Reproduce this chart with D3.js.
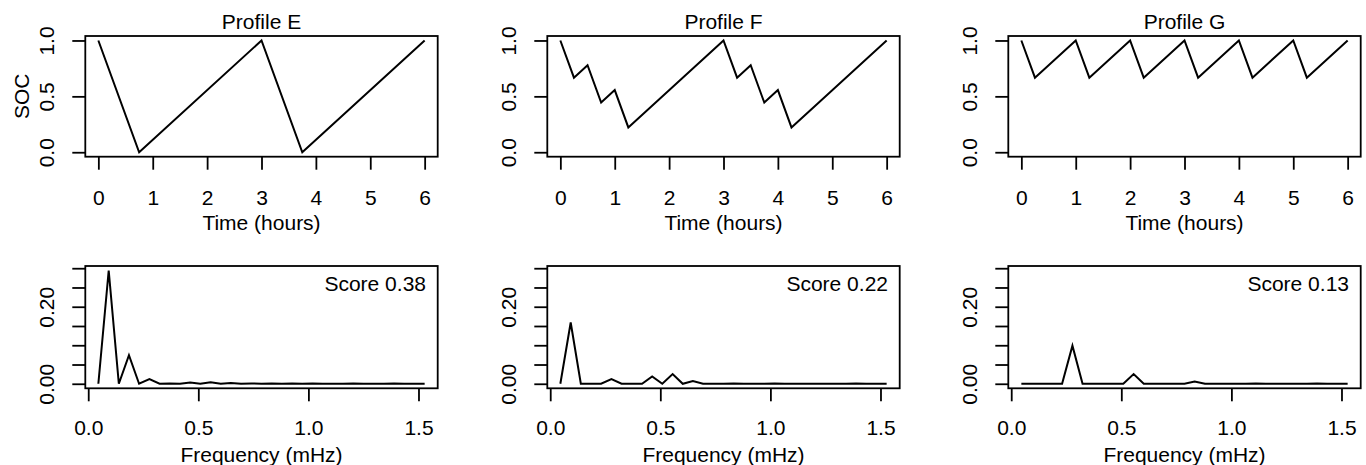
<!DOCTYPE html>
<html>
<head>
<meta charset="utf-8">
<script src="https://cdn.jsdelivr.net/npm/d3@7"></script>
<style>
  body { margin: 0; background: #fff; }
  svg { display: block; }
  text { font-family: "Liberation Sans", Arial, Helvetica, sans-serif; font-size: 21px; fill: #000; }
</style>
</head>
<body>
<svg width="1366" height="465"></svg>
<script>
// state of charge profiles (time in hours)
var timeE = [0, 0.75, 3, 3.75, 6];
var socE  = [1, 0, 1, 0, 1];

var timeF = [0, 0.25, 0.5, 0.75, 1, 1.25, 3, 3.25, 3.5, 3.75, 4, 4.25, 6];
var socF  = [1, 0.667, 0.778, 0.444, 0.556, 0.222, 1, 0.667, 0.778, 0.444, 0.556, 0.222, 1];

var timeG = [0, 0.25, 1, 1.25, 2, 2.25, 3, 3.25, 4, 4.25, 5, 5.25, 6];
var socG  = [1, 0.667, 1, 0.667, 1, 0.667, 1, 0.667, 1, 0.667, 1, 0.667, 1];

// spectra
var freqMHz = [0.046, 0.093, 0.139, 0.185, 0.231, 0.278, 0.324, 0.370, 0.417, 0.463, 0.509,
               0.556, 0.602, 0.648, 0.694, 0.741, 0.787, 0.833, 0.880, 0.926, 0.972, 1.019,
               1.065, 1.111, 1.157, 1.204, 1.250, 1.296, 1.343, 1.389, 1.435, 1.481, 1.528];

var specE = [0, 0.294, 0, 0.074, 0, 0.012, 0, 0.001, 0, 0.003, 0, 0.004, 0, 0.002, 0, 0.001, 0,
             0.001, 0, 0.001, 0, 0.001, 0, 0, 0, 0.001, 0, 0, 0, 0.001, 0, 0, 0];
var specF = [0, 0.159, 0, 0, 0, 0.012, 0, 0, 0, 0.019, 0, 0.025, 0, 0.007, 0, 0, 0,
             0.001, 0, 0, 0, 0.001, 0, 0, 0, 0, 0, 0, 0, 0.001, 0, 0, 0];
var specG = [0, 0, 0, 0, 0, 0.099, 0, 0, 0, 0, 0, 0.025, 0, 0, 0, 0, 0,
             0.006, 0, 0, 0, 0, 0, 0.001, 0, 0, 0, 0, 0, 0.001, 0, 0, 0];

var titles = ["Profile E", "Profile F", "Profile G"];
var scores = ["0.38", "0.22", "0.13"];

var timeTicks = [0, 1, 2, 3, 4, 5, 6];
var socTicks = [0, 0.5, 1];
var freqTicks = [0, 0.5, 1, 1.5];
var specTicks = [0, 0.05, 0.1, 0.15, 0.2, 0.25, 0.3];
var specLabels = [0, 0.2];

var profiles = [
  {time: timeE, soc: socE, spec: specE},
  {time: timeF, soc: socF, spec: specF},
  {time: timeG, soc: socG, spec: specG}
];

var svg = d3.select("svg");

var colLeft = [85.3, 547.3, 1008.3];
var boxW = 352.4;
var topBox = [36, 156.7];
var botBox = [266, 388.3];

// R style 4% padding of the data range
var specMax = d3.max([specE, specF, specG], function(s) { return d3.max(s); });
var fPad = (freqMHz[freqMHz.length - 1] - freqMHz[0]) * 0.04;

function box(g, x0, y0, y1) {
  g.append("rect")
    .attr("x", x0).attr("y", y0)
    .attr("width", boxW).attr("height", y1 - y0)
    .attr("fill", "none").attr("stroke", "#000").attr("stroke-width", 1.8);
}

function styleAxis(a) {
  a.select(".domain").remove();
  a.selectAll(".tick line").attr("stroke", "#000").attr("stroke-width", 1.8);
  a.selectAll("text").attr("font-size", null).attr("font-family", null);
}

function yLabels(a, dist) {
  a.selectAll("text")
    .attr("x", null).attr("dy", null)
    .attr("text-anchor", "middle")
    .attr("transform", "translate(" + (-dist) + ",0) rotate(-90)");
}

profiles.forEach(function(p, i) {
  var x0 = colLeft[i];

  // top: SOC vs time
  var x = d3.scaleLinear().domain([-0.24, 6.24]).range([x0, x0 + boxW]);
  var y = d3.scaleLinear().domain([-0.04, 1.04]).range([topBox[1], topBox[0]]);

  var gt = svg.append("g");
  box(gt, x0, topBox[0], topBox[1]);

  var ax = gt.append("g")
    .attr("transform", "translate(0," + topBox[1] + ")")
    .call(d3.axisBottom(x).tickValues(timeTicks).tickSize(13).tickFormat(d3.format("d")));
  styleAxis(ax);
  ax.selectAll("text").attr("y", 48.5).attr("dy", null);

  var ay = gt.append("g")
    .attr("transform", "translate(" + x0 + ",0)")
    .call(d3.axisLeft(y).tickValues(socTicks).tickSize(13).tickFormat(d3.format(".1f")));
  styleAxis(ay);
  yLabels(ay, 31.3);

  gt.append("path")
    .datum(d3.range(p.time.length))
    .attr("fill", "none").attr("stroke", "#000").attr("stroke-width", 2)
    .attr("stroke-linejoin", "miter")
    .attr("d", d3.line().x(function(j) { return x(p.time[j]); }).y(function(j) { return y(p.soc[j]); }));

  gt.append("text")
    .attr("x", x0 + boxW / 2).attr("y", topBox[0] - 6.7)
    .attr("text-anchor", "middle").text(titles[i]);

  gt.append("text")
    .attr("x", x0 + boxW / 2).attr("y", topBox[1] + 73.3)
    .attr("text-anchor", "middle").text("Time (hours)");

  if (i === 0) {
    gt.append("text")
      .attr("transform", "translate(29," + y(0.5) + ") rotate(-90)")
      .attr("text-anchor", "middle").text("SOC");
  }

  // bottom: spectrum
  var fx = d3.scaleLinear()
    .domain([freqMHz[0] - fPad, freqMHz[freqMHz.length - 1] + fPad])
    .range([x0, x0 + boxW]);
  var fy = d3.scaleLinear()
    .domain([-0.04 * specMax, 1.04 * specMax])
    .range([botBox[1], botBox[0]]);

  var gb = svg.append("g");
  box(gb, x0, botBox[0], botBox[1]);

  var bx = gb.append("g")
    .attr("transform", "translate(0," + botBox[1] + ")")
    .call(d3.axisBottom(fx).tickValues(freqTicks).tickSize(13).tickFormat(d3.format(".1f")));
  styleAxis(bx);
  bx.selectAll("text").attr("y", 47).attr("dy", null);

  var by = gb.append("g")
    .attr("transform", "translate(" + x0 + ",0)")
    .call(d3.axisLeft(fy).tickValues(specTicks).tickSize(13)
      .tickFormat(function(d) { return specLabels.indexOf(d) >= 0 ? d3.format(".2f")(d) : ""; }));
  styleAxis(by);
  yLabels(by, 31.3);

  gb.append("path")
    .datum(d3.range(freqMHz.length))
    .attr("fill", "none").attr("stroke", "#000").attr("stroke-width", 2)
    .attr("d", d3.line().x(function(j) { return fx(freqMHz[j]); }).y(function(j) { return fy(p.spec[j]); }));

  gb.append("text")
    .attr("x", x0 + boxW - 11.7).attr("y", botBox[0] + 25)
    .attr("text-anchor", "end").text("Score " + scores[i]);

  gb.append("text")
    .attr("x", x0 + boxW / 2).attr("y", botBox[1] + 73.4)
    .attr("text-anchor", "middle").text("Frequency (mHz)");
});
</script>
</body>
</html>
